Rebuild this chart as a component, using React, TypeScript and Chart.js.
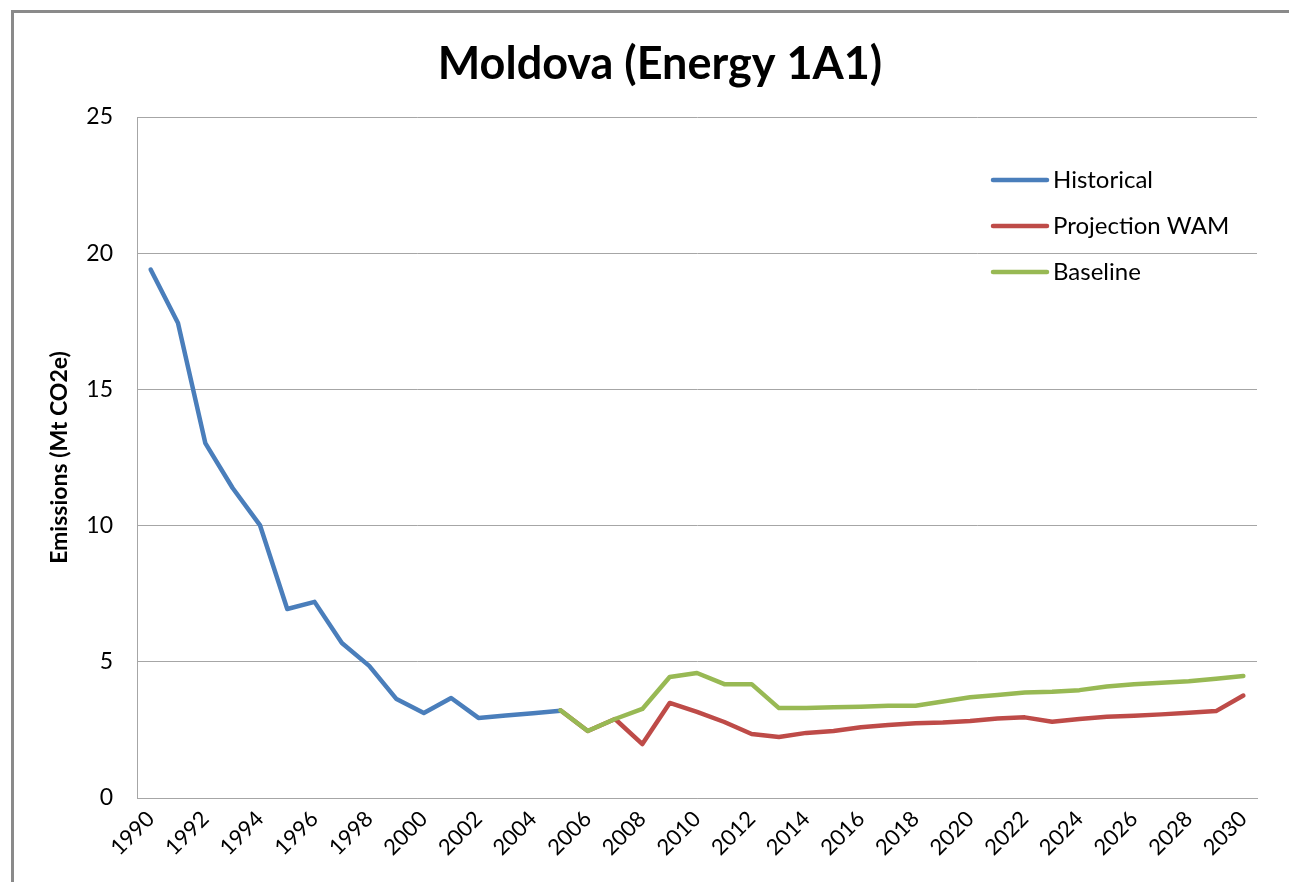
import { useEffect, useRef } from "react";
import { Chart, registerables } from "chart.js";

Chart.register(...registerables);

const years = [
  "1990", "1991", "1992", "1993", "1994", "1995", "1996", "1997", "1998", "1999",
  "2000", "2001", "2002", "2003", "2004", "2005", "2006", "2007", "2008", "2009",
  "2010", "2011", "2012", "2013", "2014", "2015", "2016", "2017", "2018", "2019",
  "2020", "2021", "2022", "2023", "2024", "2025", "2026", "2027", "2028", "2029",
  "2030",
];

const historical = [
  19.4, 17.44, 13.03, 11.38, 10.02, 6.94, 7.2, 5.69, 4.85, 3.63,
  3.12, 3.67, 2.94, 3.03, 3.11, 3.2, null, null, null, null,
  null, null, null, null, null, null, null, null, null, null,
  null, null, null, null, null, null, null, null, null, null,
  null,
];

const projectionWAM = [
  null, null, null, null, null, null, null, null, null, null,
  null, null, null, null, null, 3.22, 2.46, 2.9, 1.98, 3.49,
  3.16, 2.79, 2.35, 2.24, 2.39, 2.46, 2.6, 2.68, 2.74, 2.77,
  2.83, 2.92, 2.96, 2.8, 2.9, 2.98, 3.02, 3.07, 3.13, 3.19,
  3.76,
];

const baseline = [
  null, null, null, null, null, null, null, null, null, null,
  null, null, null, null, null, 3.22, 2.46, 2.9, 3.27, 4.44,
  4.59, 4.18, 4.18, 3.3, 3.3, 3.33, 3.35, 3.39, 3.39, 3.54,
  3.7, 3.78, 3.87, 3.9, 3.96, 4.09, 4.18, 4.23, 4.29, 4.38,
  4.48,
];

const seriesNames = ["Historical", "Projection WAM", "Baseline"];
const seriesColors = ["#4A7EBB", "#BE4B48", "#98B954"];
const chartTitle = "Moldova (Energy 1A1)";

const FONT = "Lato, 'Open Sans', sans-serif";

const framePlugin = {
  id: "frame",
  beforeDraw(chart: any) {
    const { ctx, width, height } = chart;
    ctx.save();
    ctx.fillStyle = "#ffffff";
    ctx.fillRect(0, 0, width, height);
    ctx.fillStyle = "#8a8a8a";
    ctx.fillRect(11, 10, 3, height - 10);
    ctx.fillRect(11, 10, width - 11, 3);
    ctx.restore();
  },
};

const titlePlugin = {
  id: "customTitle",
  afterDraw(chart: any) {
    const { ctx } = chart;
    ctx.save();
    ctx.fillStyle = "#000";
    ctx.font = `bold 45px ${FONT}`;
    ctx.textAlign = "center";
    ctx.textBaseline = "middle";
    ctx.fillText(chartTitle, 660, 64);
    ctx.restore();
  },
};

const legendPlugin = {
  id: "customLegend",
  afterDraw(chart: any) {
    const { ctx, chartArea } = chart;
    const x0 = chartArea.right - 264;
    const x1 = x0 + 54;
    const tx = x1 + 6;
    ctx.save();
    chart.data.datasets.forEach((ds: any, i: number) => {
      const y = chartArea.top + 63 + i * 46;
      ctx.strokeStyle = ds.borderColor;
      ctx.lineWidth = 4.5;
      ctx.lineCap = "round";
      ctx.beginPath();
      ctx.moveTo(x0, y);
      ctx.lineTo(x1, y);
      ctx.stroke();
      ctx.fillStyle = "#000";
      ctx.font = `24px ${FONT}`;
      ctx.textBaseline = "middle";
      ctx.textAlign = "left";
      ctx.fillText(ds.label, tx, y);
    });
    ctx.restore();
  },
};

export default function App() {
  const canvasRef = useRef<HTMLCanvasElement | null>(null);

  useEffect(() => {
    const canvas = canvasRef.current;
    if (!canvas) return;
    const seriesData = [historical, projectionWAM, baseline];
    const orders = [1, 2, 0];
    const chart = new Chart(canvas, {
      type: "line",
      data: {
        labels: years,
        datasets: seriesNames.map((name, i) => ({
          label: name,
          data: seriesData[i],
          borderColor: seriesColors[i],
          backgroundColor: seriesColors[i],
          borderWidth: 4.5,
          pointRadius: 0,
          pointHoverRadius: 0,
          tension: 0,
          spanGaps: false,
          borderJoinStyle: "round",
          borderCapStyle: "round",
          order: orders[i],
        })),
      },
      options: {
        responsive: false,
        animation: false,
        layout: { padding: { top: 117, left: 0, right: 32, bottom: 0 } },
        plugins: {
          legend: { display: false },
          tooltip: { enabled: false },
          title: { display: false },
        },
        scales: {
          x: {
            type: "category",
            offset: true,
            grid: { display: false, drawTicks: false },
            border: { display: true, color: "#A6A6A6", width: 1 },
            ticks: {
              autoSkip: false,
              minRotation: 45,
              maxRotation: 45,
              padding: 8,
              color: "#000",
              font: { family: FONT, size: 22 },
              callback: (_v: any, i: number) => (i % 2 === 0 ? years[i] : ""),
            },
            afterFit: (s: any) => {
              s.height = 84;
            },
          },
          y: {
            min: 0,
            max: 25,
            ticks: {
              stepSize: 5,
              padding: 24,
              color: "#000",
              font: { family: FONT, size: 23 },
            },
            grid: { color: "#A6A6A6", lineWidth: 1, drawTicks: false },
            border: { display: true, color: "#A6A6A6", width: 1 },
            title: {
              display: true,
              text: "Emissions (Mt CO2e)",
              color: "#000",
              font: { family: FONT, size: 23, weight: "bold" },
              padding: { top: 46, bottom: 0 },
            },
            afterFit: (s: any) => {
              s.width = 137;
            },
          },
        },
      },
      plugins: [framePlugin, legendPlugin, titlePlugin],
    });
    return () => chart.destroy();
  }, []);

  return (
    <div style={{ position: "fixed", left: 0, top: 0, width: 1289, height: 882, background: "#fff" }}>
      <canvas ref={canvasRef} width={1289} height={882} style={{ display: "block" }} />
    </div>
  );
}
